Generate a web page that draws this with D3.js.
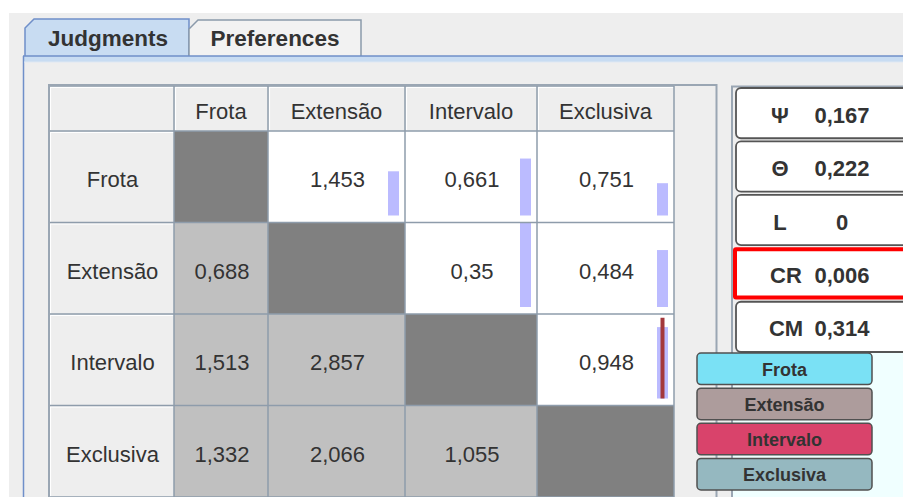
<!DOCTYPE html>
<html>
<head>
<meta charset="utf-8">
<script src="https://cdn.jsdelivr.net/npm/d3@7"></script>
<style>
  body { margin: 0; background: #ffffff; overflow: hidden; }
  svg text { font-family: "Liberation Sans", Arial, sans-serif; fill: #333333; }
</style>
</head>
<body>
<div id="chart"></div>
<script>
// ---- data ----
const criteria = ["Frota", "Extensão", "Intervalo", "Exclusiva"];
const tabs = ["Judgments", "Preferences"];

// pairwise judgments (row vs column), null on the diagonal
const judgments = [
  [null, 1.453, 0.661, 0.751],
  [0.688, null, 0.35, 0.484],
  [1.513, 2.857, null, 0.948],
  [1.332, 2.066, 1.055, null]
];

// little bars in the upper triangle (relative level)
const barLevels = [
  [null, 0.52, 0.67, 0.38],
  [null, null, 1.0, 0.67],
  [null, null, null, 0.84],
  [null, null, null, null]
];
// red marker line inside a bar
const markerLevels = [
  [null, null, null, null],
  [null, null, null, null],
  [null, null, null, 0.95],
  [null, null, null, null]
];

const indexLabels = ["Ψ", "Θ", "L", "CR", "CM"];
const indexValues = [0.167, 0.222, 0, 0.006, 0.314];
const highlightIndex = "CR";

const legendColors = ["#7ae1f5", "#ad9c9c", "#d9436b", "#95b8c0"];

// ---- layout ----
const width = 903, height = 497;
const colEdges = [49, 174, 268, 405, 537, 674];
const gridColor = "#8e9cab";
const fmt = v => String(v).replace(".", ",");

const svg = d3.select("#chart").append("svg")
  .attr("width", width)
  .attr("height", height);

// window background
svg.append("rect").attr("x", 9).attr("y", 13)
  .attr("width", width).attr("height", height).attr("fill", "#eeeeee");

// ---------- tabs ----------
const tabX = d3.scaleOrdinal().domain(tabs).range([[25, 189], [189, 361]]);
tabs.forEach((t, i) => {
  const [x0, x1] = tabX(t);
  const selected = i === 0;
  const top = selected ? 19 : 20;
  svg.append("path")
    .attr("d", `M${x0},56 L${x0},${top + 9} L${x0 + 9},${top} L${x1},${top} L${x1},56`)
    .attr("fill", selected ? "#c8dcf2" : "#f2f2f2")
    .attr("stroke", selected ? "#6f8fc9" : "#8b9aab")
    .attr("stroke-width", 1.5);
  svg.append("text")
    .attr("x", (x0 + x1) / 2 + (selected ? 1 : 0))
    .attr("y", 38)
    .attr("text-anchor", "middle")
    .attr("dominant-baseline", "central")
    .style("font-size", "22.5px")
    .style("font-weight", "bold")
    .text(t);
});

// content border + blue strip
svg.append("rect").attr("x", 24).attr("y", 56)
  .attr("width", width).attr("height", 6).attr("fill", "#c8dcf2");
svg.append("line").attr("x1", 23).attr("x2", width).attr("y1", 56).attr("y2", 56)
  .attr("stroke", "#6f8fc9").attr("stroke-width", 1.5);
svg.append("line").attr("x1", 23.5).attr("x2", 23.5).attr("y1", 56).attr("y2", height)
  .attr("stroke", "#6f8fc9").attr("stroke-width", 1.5);
svg.append("line").attr("x1", 24).attr("x2", width).attr("y1", 62).attr("y2", 62)
  .attr("stroke", "#dfe8f3").attr("stroke-width", 1);

// ---------- table ----------
const y = d3.scaleBand().domain(criteria).range([131, 497]).paddingInner(0);
const colKeys = ["__head"].concat(criteria);
const x = d3.scaleOrdinal().domain(colKeys).range(colEdges.slice(0, 5));
const colW = d3.scaleOrdinal().domain(colKeys)
  .range(colEdges.slice(1).map((e, i) => e - colEdges[i]));

const barH = d3.scaleLinear().domain([0, 1]).range([0, 85]);

// header row
const head = svg.append("g");
colKeys.forEach(k => {
  head.append("rect").attr("x", x(k)).attr("y", 86)
    .attr("width", colW(k)).attr("height", 45).attr("fill", "#eeeeee");
  head.append("path")
    .attr("d", `M${x(k) + 1.5},130 L${x(k) + 1.5},87.5 L${x(k) + colW(k)},87.5`)
    .attr("fill", "none").attr("stroke", "#ffffff").attr("stroke-width", 1.2);
  if (k !== "__head") {
    head.append("text")
      .attr("x", x(k) + colW(k) / 2)
      .attr("y", 111)
      .attr("text-anchor", "middle")
      .attr("dominant-baseline", "central")
      .style("font-size", "22px")
      .text(k);
  }
});

// rows
const rows = svg.selectAll(".row")
  .data(criteria)
  .enter().append("g")
  .attr("class", "row");

rows.each(function(rowName, i) {
  const g = d3.select(this);
  const top = y(rowName), bh = y.bandwidth();

  g.append("rect").attr("x", x("__head")).attr("y", top)
    .attr("width", colW("__head")).attr("height", bh).attr("fill", "#eeeeee");
  g.append("path")
    .attr("d", `M${x("__head") + 1.5},${top + bh} L${x("__head") + 1.5},${top + 1.5} L${x("__head") + colW("__head")},${top + 1.5}`)
    .attr("fill", "none").attr("stroke", "#ffffff").attr("stroke-width", 1.2);
  g.append("text")
    .attr("x", x("__head") + colW("__head") / 2 + 1)
    .attr("y", top + bh / 2 + 3)
    .attr("text-anchor", "middle")
    .attr("dominant-baseline", "central")
    .style("font-size", "22px")
    .text(rowName);

  criteria.forEach((colName, j) => {
    const cx = x(colName), cw = colW(colName);
    const fill = i === j ? "#808080" : (j > i ? "#ffffff" : "#c0c0c0");
    g.append("rect").attr("x", cx).attr("y", top)
      .attr("width", cw).attr("height", bh).attr("fill", fill);

    const v = judgments[i][j];
    if (v !== null) {
      g.append("text")
        .attr("x", cx + cw / 2 + 1)
        .attr("y", top + bh / 2 + 3)
        .attr("text-anchor", "middle")
        .attr("dominant-baseline", "central")
        .style("font-size", "22px")
        .text(fmt(v));
    }

    const b = barLevels[i][j];
    if (b !== null) {
      const bottom = top + bh - 7;
      const h = Math.min(barH(b), bottom - top);
      g.append("rect")
        .attr("x", cx + cw - 17)
        .attr("y", bottom - h)
        .attr("width", 11)
        .attr("height", h)
        .attr("fill", "#bbbbff");
    }
    const m = markerLevels[i][j];
    if (m !== null) {
      const bottom = top + bh - 7;
      g.append("rect")
        .attr("x", cx + cw - 13.5)
        .attr("y", bottom - barH(m))
        .attr("width", 4)
        .attr("height", barH(m))
        .attr("fill", "#a3383c");
    }
  });
});

// grid lines
const grid = svg.append("g")
  .attr("stroke", gridColor)
  .attr("stroke-width", 1.5);
colEdges.forEach(e => {
  grid.append("line").attr("x1", e).attr("x2", e).attr("y1", 86).attr("y2", height);
});
[86, 131].concat(criteria.map(c => y(c) + y.bandwidth())).forEach(e => {
  grid.append("line").attr("x1", 49).attr("x2", 674).attr("y1", e).attr("y2", e);
});

// scroll pane border
svg.append("path")
  .attr("d", `M49,${height} L49,85 L716.5,85 L716.5,${height}`)
  .attr("fill", "none").attr("stroke", "#9aa6b3").attr("stroke-width", 2);

// ---------- right panel ----------
svg.append("path")
  .attr("d", `M732,${height} L732,86.5 L${width},86.5`)
  .attr("fill", "none").attr("stroke", "#9aa6b3").attr("stroke-width", 2);

svg.append("rect").attr("x", 733).attr("y", 352)
  .attr("width", 200).attr("height", 200).attr("fill", "#f0ffff");

const by = d3.scaleBand().domain(indexLabels).range([88, 352]).paddingInner(0.06);

const boxes = svg.selectAll(".idx")
  .data(indexLabels)
  .enter().append("g")
  .attr("class", "idx");

boxes.append("rect")
  .attr("x", d => d === highlightIndex ? 735 : 736)
  .attr("y", d => by(d) + (d === highlightIndex ? 1 : 0))
  .attr("width", 200)
  .attr("height", d => by.bandwidth() - (d === highlightIndex ? 2 : 0))
  .attr("rx", d => d === highlightIndex ? 1 : 5)
  .attr("fill", "#ffffff")
  .attr("stroke", d => d === highlightIndex ? "#ff0000" : "#555555")
  .attr("stroke-width", d => d === highlightIndex ? 4 : 1.8);

boxes.append("text")
  .attr("x", d => d === "CR" || d === "CM" ? 786 : 780)
  .attr("y", d => by(d) + by.bandwidth() / 2 + 2)
  .attr("text-anchor", "middle")
  .attr("dominant-baseline", "central")
  .style("font-size", "22px")
  .style("font-weight", "bold")
  .text(d => d);

boxes.append("text")
  .attr("x", 842)
  .attr("y", d => by(d) + by.bandwidth() / 2 + 2)
  .attr("text-anchor", "middle")
  .attr("dominant-baseline", "central")
  .style("font-size", "22px")
  .style("font-weight", "bold")
  .text((d, i) => fmt(indexValues[i]));

// ---------- legend ----------
const ly = d3.scaleBand().domain(criteria).range([353, 490]).paddingInner(0.1);
const color = d3.scaleOrdinal().domain(criteria).range(legendColors);

const legend = svg.selectAll(".leg")
  .data(criteria)
  .enter().append("g")
  .attr("class", "leg");

legend.append("rect")
  .attr("x", 697)
  .attr("y", d => ly(d))
  .attr("width", 175)
  .attr("height", ly.bandwidth())
  .attr("rx", 4)
  .attr("fill", d => color(d))
  .attr("stroke", "#505050")
  .attr("stroke-width", 1.5);

legend.append("text")
  .attr("x", 784.5)
  .attr("y", d => ly(d) + ly.bandwidth() / 2 + 1)
  .attr("text-anchor", "middle")
  .attr("dominant-baseline", "central")
  .style("font-size", "18px")
  .style("font-weight", "bold")
  .text(d => d);
</script>
</body>
</html>
